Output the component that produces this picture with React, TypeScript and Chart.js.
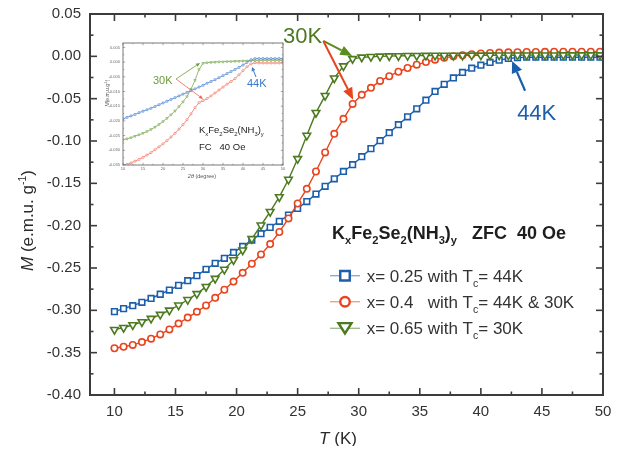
import React, { useEffect, useRef } from "react";
import { Chart, registerables } from "chart.js";

Chart.register(...registerables);

// ---------- main chart data (ZFC, 40 Oe) ----------
const temperatures = [
  10, 10.75, 11.5, 12.25, 13, 13.75, 14.5, 15.25, 16, 16.75, 17.5, 18.25, 19, 19.75,
  20.5, 21.25, 22, 22.75, 23.5, 24.25, 25, 25.75, 26.5, 27.25, 28, 28.75, 29.5, 30.25,
  31, 31.75, 32.5, 33.25, 34, 34.75, 35.5, 36.25, 37, 37.75, 38.5, 39.25, 40, 40.75,
  41.5, 42.25, 43, 43.75, 44.5, 45.25, 46, 46.75, 47.5, 48.25, 49, 49.75,
];

const mX025 = [
  -0.3015, -0.298, -0.2945, -0.2905, -0.286, -0.281, -0.276, -0.2705, -0.265, -0.259,
  -0.2515, -0.2445, -0.2385, -0.2316, -0.2245, -0.217, -0.2095, -0.202, -0.1948, -0.1875,
  -0.1796, -0.1715, -0.1627, -0.1535, -0.1447, -0.136, -0.128, -0.1185, -0.109, -0.0996,
  -0.0902, -0.0808, -0.0714, -0.062, -0.0518, -0.0415, -0.033, -0.0255, -0.019, -0.014,
  -0.0105, -0.0072, -0.0045, -0.0025, -0.0015, -0.001, -0.001, -0.001, -0.001, -0.001,
  -0.001, -0.001, -0.001, -0.001,
];

const mX04 = [
  -0.3448, -0.343, -0.3408, -0.3375, -0.3335, -0.3285, -0.3225, -0.3156, -0.3085, -0.3018,
  -0.2943, -0.2852, -0.2757, -0.266, -0.2557, -0.245, -0.234, -0.2218, -0.2075, -0.1915,
  -0.1738, -0.1565, -0.136, -0.1135, -0.0915, -0.0738, -0.0562, -0.0455, -0.0372, -0.029,
  -0.0235, -0.0182, -0.0138, -0.0098, -0.0068, -0.004, -0.0018, 0.0, 0.0014, 0.0026,
  0.0034, 0.004, 0.0044, 0.0047, 0.0049, 0.0051, 0.0052, 0.0053, 0.0054, 0.0055,
  0.0055, 0.0055, 0.0055, 0.0055,
];

const mX065 = [
  -0.3228, -0.3205, -0.3173, -0.3137, -0.3097, -0.305, -0.3, -0.294, -0.2875, -0.2805,
  -0.272, -0.2625, -0.2518, -0.2405, -0.229, -0.2156, -0.1995, -0.1835, -0.166, -0.1455,
  -0.121, -0.0935, -0.0665, -0.0465, -0.0258, -0.0115, -0.003, -0.0012, -0.0005, 0.0,
  0.0003, 0.0005, 0.0007, 0.0008, 0.0009, 0.001, 0.001, 0.0011, 0.0011, 0.0012,
  0.0012, 0.0012, 0.0013, 0.0013, 0.0013, 0.0014, 0.0014, 0.0014, 0.0014, 0.0015,
  0.0015, 0.0015, 0.0015, 0.0015,
];

const xTickValues = [10, 15, 20, 25, 30, 35, 40, 45, 50];
const yTickValues = [0.05, 0.0, -0.05, -0.1, -0.15, -0.2, -0.25, -0.3, -0.35, -0.4];

// ---------- inset data (FC, 40 Oe) ----------
const insetT = [
  10, 11, 12, 13, 14, 15, 16, 17, 18, 19, 20, 21, 22, 23, 24, 25, 26, 27, 28, 29, 30,
  31, 32, 33, 34, 35, 36, 37, 38, 39, 40, 41, 42, 43, 44, 45, 46, 47, 48, 49, 50,
];
const insetX025 = [
  -0.0193, -0.0188, -0.0183, -0.0178, -0.0172, -0.0167, -0.0162, -0.0157, -0.0151, -0.0145,
  -0.0139, -0.0133, -0.0127, -0.0121, -0.0115, -0.0109, -0.0103, -0.0097, -0.0091, -0.0085,
  -0.0079, -0.0072, -0.0066, -0.006, -0.0053, -0.0046, -0.0039, -0.0032, -0.0025, -0.0018,
  -0.001, -0.0001, 0.0008, 0.0012, 0.0012, 0.0012, 0.0012, 0.0012, 0.0012, 0.0012, 0.0012,
];
const insetX04 = [
  -0.0352, -0.0348, -0.0343, -0.0337, -0.0331, -0.0324, -0.0316, -0.0308, -0.0298, -0.0288,
  -0.0278, -0.0267, -0.0255, -0.0242, -0.0228, -0.0213, -0.0196, -0.0176, -0.0155, -0.0138,
  -0.0131, -0.0124, -0.0115, -0.0105, -0.0095, -0.0085, -0.0075, -0.0066, -0.0056, -0.0043,
  -0.0029, -0.0016, -0.0006, -0.0002, -0.0003, -0.0003, -0.0003, -0.0003, -0.0003, -0.0003, -0.0003,
];
const insetX065 = [
  -0.0264, -0.0261, -0.0257, -0.0252, -0.0247, -0.0242, -0.0236, -0.0229, -0.0221, -0.0212,
  -0.0202, -0.0191, -0.0179, -0.0166, -0.0151, -0.0135, -0.0117, -0.0092, -0.0062, -0.0025,
  -0.0004, -0.0002, -0.0001, 0.0, 0.0001, 0.0001, 0.0002, 0.0002, 0.0003, 0.0003,
  0.0004, 0.0004, 0.0005, 0.0005, 0.0005, 0.0006, 0.0006, 0.0006, 0.0006, 0.0006, 0.0006,
];
const insetXTicks = [10, 15, 20, 25, 30, 35, 40, 45, 50];
const insetYTicks = [0.005, 0.0, -0.005, -0.01, -0.015, -0.02, -0.025, -0.03, -0.035];

// ---------- styling ----------
const FAMILY = '"Liberation Sans", Arial, sans-serif';
const BLUE = "#1b5eab";
const RED = "#e8451f";
const GREEN = "#4d7a20";
const ARROW_GREEN = "#5b8c1e";
const IN_BLUE = "#3a78cc";
const IN_RED = "#f4624a";
const IN_GREEN = "#6c9c3a";

type Part = { t: string; sub?: boolean; sup?: boolean; italic?: boolean };

function setFont(ctx: CanvasRenderingContext2D, p: Part, size: number, weight: string) {
  const s = p.sub || p.sup ? size * 0.62 : size;
  ctx.font = `${p.italic ? "italic " : ""}${weight} ${s}px ${FAMILY}`;
}
function richWidth(ctx: CanvasRenderingContext2D, parts: Part[], size: number, weight: string) {
  let w = 0;
  for (const p of parts) {
    setFont(ctx, p, size, weight);
    w += ctx.measureText(p.t).width;
  }
  return w;
}
function drawRich(
  ctx: CanvasRenderingContext2D,
  parts: Part[],
  x: number,
  y: number,
  size: number,
  weight: string,
  color: string
) {
  ctx.fillStyle = color;
  ctx.textAlign = "left";
  ctx.textBaseline = "alphabetic";
  let cx = x;
  for (const p of parts) {
    setFont(ctx, p, size, weight);
    const dy = p.sub ? size * 0.3 : p.sup ? -size * 0.42 : 0;
    ctx.fillText(p.t, cx, y + dy);
    cx += ctx.measureText(p.t).width;
  }
  return cx - x;
}

function drawArrow(
  ctx: CanvasRenderingContext2D,
  x1: number,
  y1: number,
  x2: number,
  y2: number,
  color: string,
  width: number,
  headLen: number,
  headHalf: number
) {
  const ang = Math.atan2(y2 - y1, x2 - x1);
  const bx = x2 - headLen * Math.cos(ang);
  const by = y2 - headLen * Math.sin(ang);
  ctx.strokeStyle = color;
  ctx.fillStyle = color;
  ctx.lineWidth = width;
  ctx.beginPath();
  ctx.moveTo(x1, y1);
  ctx.lineTo(bx, by);
  ctx.stroke();
  ctx.beginPath();
  ctx.moveTo(x2, y2);
  ctx.lineTo(bx + headHalf * Math.sin(ang), by - headHalf * Math.cos(ang));
  ctx.lineTo(bx - headHalf * Math.sin(ang), by + headHalf * Math.cos(ang));
  ctx.closePath();
  ctx.fill();
}

function drawMarker(
  ctx: CanvasRenderingContext2D,
  kind: string,
  x: number,
  y: number,
  size: number,
  color: string,
  lw: number
) {
  ctx.strokeStyle = color;
  ctx.fillStyle = "#ffffff";
  ctx.lineWidth = lw;
  ctx.beginPath();
  if (kind === "rect") {
    ctx.rect(x - size / 2, y - size / 2, size, size);
  } else if (kind === "circle") {
    ctx.arc(x, y, size / 2, 0, Math.PI * 2);
  } else {
    const h = size * 0.8;
    ctx.moveTo(x - size / 2, y - h / 2);
    ctx.lineTo(x + size / 2, y - h / 2);
    ctx.lineTo(x, y + h / 2);
    ctx.closePath();
  }
  ctx.fill();
  ctx.stroke();
}

function frameAndTicks(
  chart: any,
  xMajor: number[],
  yMajor: number[],
  color: string,
  frameW: number,
  tickW: number,
  majLen: number,
  minLen: number
) {
  const { ctx, chartArea: a, scales } = chart;
  const xs = scales.x;
  const ys = scales.y;
  ctx.strokeStyle = color;
  ctx.lineWidth = tickW;
  const xMinor: number[] = [];
  for (let i = 0; i < xMajor.length - 1; i++) xMinor.push((xMajor[i] + xMajor[i + 1]) / 2);
  const yMinor: number[] = [];
  for (let i = 0; i < yMajor.length - 1; i++) yMinor.push((yMajor[i] + yMajor[i + 1]) / 2);
  const tick = (x1: number, y1: number, x2: number, y2: number) => {
    ctx.beginPath();
    ctx.moveTo(x1, y1);
    ctx.lineTo(x2, y2);
    ctx.stroke();
  };
  xMajor.forEach((v) => {
    const p = xs.getPixelForValue(v);
    tick(p, a.bottom, p, a.bottom - majLen);
    tick(p, a.top, p, a.top + majLen);
  });
  xMinor.forEach((v) => {
    const p = xs.getPixelForValue(v);
    tick(p, a.bottom, p, a.bottom - minLen);
    tick(p, a.top, p, a.top + minLen);
  });
  yMajor.forEach((v) => {
    const p = ys.getPixelForValue(v);
    tick(a.left, p, a.left + majLen, p);
    tick(a.right, p, a.right - majLen, p);
  });
  yMinor.forEach((v) => {
    const p = ys.getPixelForValue(v);
    tick(a.left, p, a.left + minLen, p);
    tick(a.right, p, a.right - minLen, p);
  });
  ctx.lineWidth = frameW;
  ctx.strokeRect(a.left, a.top, a.right - a.left, a.bottom - a.top);
}

// annotation anchors (data coordinates)
const label30K = { t: 23.8, m: 0.0158 };
const arrow30KStart = { t: 27.1, m: 0.0182 };
const arrow30KGreenEnd = { t: 29.47, m: 0.0005 };
const arrow30KRedEnd = { t: 29.55, m: -0.0513 };
const label44K = { t: 42.97, m: -0.0752 };
const arrow44KStart = { t: 43.62, m: -0.0407 };
const arrow44KEnd = { t: 42.56, m: -0.0054 };

const legendTitle: Part[] = [
  { t: "K" }, { t: "x", sub: true }, { t: "Fe" }, { t: "2", sub: true }, { t: "Se" },
  { t: "2", sub: true }, { t: "(NH" }, { t: "3", sub: true }, { t: ")" }, { t: "y", sub: true },
  { t: "   ZFC  40 Oe" },
];
const legendRows: { parts: Part[]; color: string; marker: string }[] = [
  { parts: [{ t: "x= 0.25 with T" }, { t: "c", sub: true }, { t: "= 44K" }], color: BLUE, marker: "rect" },
  { parts: [{ t: "x= 0.4   with T" }, { t: "c", sub: true }, { t: "= 44K & 30K" }], color: RED, marker: "circle" },
  { parts: [{ t: "x= 0.65 with T" }, { t: "c", sub: true }, { t: "= 30K" }], color: GREEN, marker: "tri" },
];

const mainDecor = {
  id: "mainDecor",
  afterDraw(chart: any) {
    const { ctx, scales, chartArea: a } = chart;
    const X = (t: number) => scales.x.getPixelForValue(t);
    const Y = (m: number) => scales.y.getPixelForValue(m);
    ctx.save();
    frameAndTicks(chart, xTickValues, yTickValues, "#3c3c3c", 2, 1.6, 7, 3.5);

    // axis titles
    const yt: Part[] = [{ t: "M", italic: true }, { t: " (e.m.u. g" }, { t: "-1", sup: true }, { t: ")" }];
    ctx.save();
    ctx.translate(19, (a.top + a.bottom) / 2 + 16);
    ctx.rotate(-Math.PI / 2);
    const yw = richWidth(ctx, yt, 17, "normal");
    drawRich(ctx, yt, -yw / 2, 6, 17, "normal", "#2a2a2a");
    ctx.restore();
    const xt: Part[] = [{ t: "T", italic: true }, { t: " (K)" }];
    const xw = richWidth(ctx, xt, 17, "normal");
    drawRich(ctx, xt, 330 - xw / 2, a.bottom + 49, 17, "normal", "#2a2a2a");

    // annotations
    drawRich(ctx, [{ t: "30K" }], X(label30K.t), Y(label30K.m), 22, "normal", GREEN);
    drawArrow(ctx, X(arrow30KStart.t), Y(arrow30KStart.m), X(arrow30KGreenEnd.t), Y(arrow30KGreenEnd.m), ARROW_GREEN, 2, 12, 5);
    drawArrow(ctx, X(arrow30KStart.t), Y(arrow30KStart.m), X(arrow30KRedEnd.t), Y(arrow30KRedEnd.m), RED, 2, 12, 5);
    drawRich(ctx, [{ t: "44K" }], X(label44K.t), Y(label44K.m), 22, "normal", BLUE);
    drawArrow(ctx, X(arrow44KStart.t), Y(arrow44KStart.m), X(arrow44KEnd.t), Y(arrow44KEnd.m), BLUE, 2.2, 12, 5.5);

    // legend block
    drawRich(ctx, legendTitle, 324, 231, 18, "bold", "#1e1e1e");
    const rowY = [267.7, 293.7, 320.3];
    legendRows.forEach((r, i) => {
      const cy = rowY[i];
      ctx.globalAlpha = 0.55;
      ctx.strokeStyle = r.color;
      ctx.lineWidth = 1.3;
      ctx.beginPath();
      ctx.moveTo(322, cy);
      ctx.lineTo(352, cy);
      ctx.stroke();
      ctx.globalAlpha = 1;
      drawMarker(ctx, r.marker, 337, cy, r.marker === "tri" ? 13 : 9.5, r.color, 2.4);
      drawRich(ctx, r.parts, 358.7, cy + 6, 17, "normal", "#333333");
    });
    ctx.restore();
  },
};

// inset annotations (data coordinates of the inset)
const in30K = { t: 17.5, m: -0.00745 };
const in30KStart = { t: 23.25, m: -0.00575 };
const in30KGreenEnd = { t: 29.25, m: -0.0003 };
const in30KRedEnd = { t: 30, m: -0.01255 };
const in44K = { t: 41, m: -0.00847 };
const in44KStart = { t: 43.25, m: -0.00507 };
const in44KEnd = { t: 42.25, m: -0.00166 };
const inFormula = { t: 29, m: -0.0241 };
const inField = { t: 29, m: -0.0299 };

const insetDecor = {
  id: "insetDecor",
  afterDraw(chart: any) {
    const { ctx, scales } = chart;
    const X = (t: number) => scales.x.getPixelForValue(t);
    const Y = (m: number) => scales.y.getPixelForValue(m);
    ctx.save();
    frameAndTicks(chart, insetXTicks, insetYTicks, "#6a6a6a", 0.9, 0.6, 2.2, 1.2);

    const yt: Part[] = [{ t: "M", italic: true }, { t: "(e.m.u.g" }, { t: "-1", sup: true }, { t: ")" }];
    ctx.save();
    ctx.translate(9, 55);
    ctx.rotate(-Math.PI / 2);
    const yw = richWidth(ctx, yt, 5, "normal");
    drawRich(ctx, yt, -yw / 2, 2, 5, "normal", "#555");
    ctx.restore();
    const xt: Part[] = [{ t: "2θ", italic: true }, { t: " (degree)" }];
    const xw = richWidth(ctx, xt, 5.5, "normal");
    drawRich(ctx, xt, 104 - xw / 2, 140, 5.5, "normal", "#555");

    drawRich(ctx, [{ t: "30K" }], X(in30K.t), Y(in30K.m), 11, "normal", IN_GREEN);
    drawArrow(ctx, X(in30KStart.t), Y(in30KStart.m), X(in30KGreenEnd.t), Y(in30KGreenEnd.m), IN_GREEN, 0.8, 4, 1.8);
    drawArrow(ctx, X(in30KStart.t), Y(in30KStart.m), X(in30KRedEnd.t), Y(in30KRedEnd.m), IN_RED, 0.8, 4, 1.8);
    drawRich(ctx, [{ t: "44K" }], X(in44K.t), Y(in44K.m), 11, "normal", IN_BLUE);
    drawArrow(ctx, X(in44KStart.t), Y(in44KStart.m), X(in44KEnd.t), Y(in44KEnd.m), IN_BLUE, 1, 4, 2);

    const formula: Part[] = [
      { t: "K" }, { t: "x", sub: true }, { t: "Fe" }, { t: "2", sub: true }, { t: "Se" },
      { t: "2", sub: true }, { t: "(NH" }, { t: "3", sub: true }, { t: ")" }, { t: "y", sub: true },
    ];
    drawRich(ctx, formula, X(inFormula.t), Y(inFormula.m), 9.5, "normal", "#222");
    drawRich(ctx, [{ t: "FC   40 Oe" }], X(inField.t), Y(inField.m), 9.5, "normal", "#222");
    ctx.restore();
  },
};

function series(xs: number[], ys: number[]) {
  return xs.map((x, i) => ({ x, y: ys[i] }));
}

const zeroPadX = (s: any, h: number) => {
  s.height = h;
  s.paddingLeft = 0;
  s.paddingRight = 0;
  s.paddingTop = 0;
  s.paddingBottom = 0;
};
const zeroPadY = (s: any, w: number) => {
  s.width = w;
  s.paddingLeft = 0;
  s.paddingRight = 0;
  s.paddingTop = 0;
  s.paddingBottom = 0;
};

export default function App() {
  const mainRef = useRef<HTMLCanvasElement>(null);
  const insetRef = useRef<HTMLCanvasElement>(null);

  useEffect(() => {
    document.documentElement.style.overflow = "hidden";
    const mk = (label: string, ys: number[], color: string, style: any, r: number, rot = 0) => ({
      label,
      data: series(temperatures, ys),
      borderColor: color,
      backgroundColor: "#ffffff",
      pointBackgroundColor: "#ffffff",
      pointBorderColor: color,
      pointStyle: style,
      pointRadius: r,
      pointRotation: rot,
      pointBorderWidth: 1.6,
      borderWidth: 1.4,
      tension: 0,
    });
    const main = new Chart(mainRef.current as HTMLCanvasElement, {
      type: "line",
      data: {
        datasets: [
          mk("x= 0.65", mX065, GREEN, "triangle", 4.4, 180),
          mk("x= 0.4", mX04, RED, "circle", 3.2),
          mk("x= 0.25", mX025, BLUE, "rect", 4),
        ],
      },
      options: {
        responsive: false,
        animation: false,
        devicePixelRatio: 1,
        layout: { padding: { top: 5, right: 22, left: 0, bottom: 0 } },
        plugins: { legend: { display: false }, tooltip: { enabled: false } },
        scales: {
          x: {
            type: "linear",
            min: 8,
            max: 50,
            grid: { display: false, drawTicks: false },
            border: { display: false },
            ticks: {
              font: { family: FAMILY, size: 15 },
              color: "#333",
              padding: 8,
              autoSkip: false,
              maxRotation: 0,
              callback: (v: any) => String(v),
            },
            afterBuildTicks: (s: any) => {
              s.ticks = xTickValues.map((v) => ({ value: v }));
            },
            afterFit: (s: any) => zeroPadX(s, 59),
          },
          y: {
            type: "linear",
            min: -0.4,
            max: 0.05,
            grid: { display: false, drawTicks: false },
            border: { display: false },
            ticks: {
              font: { family: FAMILY, size: 15 },
              color: "#333",
              padding: 9,
              autoSkip: false,
              callback: (v: any) => Number(v).toFixed(2),
            },
            afterBuildTicks: (s: any) => {
              s.ticks = yTickValues.map((v) => ({ value: v }));
            },
            afterFit: (s: any) => zeroPadY(s, 82),
          },
        },
      },
      plugins: [mainDecor],
    } as any);

    const mkIn = (label: string, ys: number[], color: string, style: any, r: number, rot = 0) => ({
      label,
      data: series(insetT, ys),
      borderColor: color,
      backgroundColor: "#ffffff",
      pointBackgroundColor: "#ffffff",
      pointBorderColor: color,
      pointStyle: style,
      pointRadius: r,
      pointRotation: rot,
      pointBorderWidth: 0.6,
      borderWidth: 0.7,
      tension: 0,
    });
    const inset = new Chart(insetRef.current as HTMLCanvasElement, {
      type: "line",
      data: {
        datasets: [
          mkIn("x= 0.25", insetX025, IN_BLUE, "rect", 1.3),
          mkIn("x= 0.65", insetX065, IN_GREEN, "triangle", 1.4, 180),
          mkIn("x= 0.4", insetX04, IN_RED, "circle", 1.1),
        ],
      },
      options: {
        responsive: false,
        animation: false,
        devicePixelRatio: 1,
        layout: { padding: { top: 5, right: 7, left: 0, bottom: 0 } },
        plugins: { legend: { display: false }, tooltip: { enabled: false } },
        scales: {
          x: {
            type: "linear",
            min: 10,
            max: 50,
            grid: { display: false, drawTicks: false },
            border: { display: false },
            ticks: {
              font: { family: FAMILY, size: 4 },
              color: "#666",
              padding: 1.5,
              autoSkip: false,
              maxRotation: 0,
              callback: (v: any) => String(v),
            },
            afterBuildTicks: (s: any) => {
              s.ticks = insetXTicks.map((v) => ({ value: v }));
            },
            afterFit: (s: any) => zeroPadX(s, 19),
          },
          y: {
            type: "linear",
            min: -0.035,
            max: 0.0065,
            grid: { display: false, drawTicks: false },
            border: { display: false },
            ticks: {
              font: { family: FAMILY, size: 4 },
              color: "#666",
              padding: 3,
              autoSkip: false,
              callback: (v: any) => Number(v).toFixed(3),
            },
            afterBuildTicks: (s: any) => {
              s.ticks = insetYTicks.map((v) => ({ value: v }));
            },
            afterFit: (s: any) => zeroPadY(s, 25),
          },
        },
      },
      plugins: [insetDecor],
    } as any);

    return () => {
      main.destroy();
      inset.destroy();
    };
  }, []);

  return (
    <div style={{ position: "relative", width: 617, height: 446, marginBottom: -8, background: "#ffffff" }}>
      <canvas ref={mainRef} width={617} height={446} style={{ display: "block" }} />
      <canvas
        ref={insetRef}
        width={192}
        height={146}
        style={{ position: "absolute", left: 90, top: 30, display: "block" }}
      />
    </div>
  );
}
